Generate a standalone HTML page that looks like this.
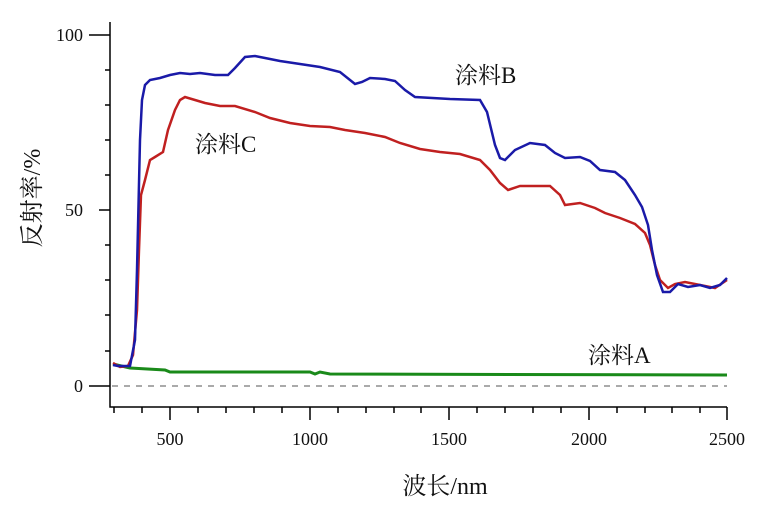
<!DOCTYPE html>
<html><head><meta charset="utf-8"><style>
html,body{margin:0;padding:0;background:#fff;}
text{font-family:"Liberation Serif","Noto Serif CJK SC",serif;fill:#111;}
</style></head><body>
<svg width="760" height="507" viewBox="0 0 760 507" xmlns="http://www.w3.org/2000/svg">
<g stroke="#000" stroke-width="1.5" fill="none">
<path d="M110,22 V407 H727"/>
<path d="M89,35 H110 M99,210 H110 M89,386 H110"/>
<path d="M105,70 H110 M105,105 H110 M105,140 H110 M105,175 H110 M105,245 H110 M105,280 H110 M105,315 H110 M105,351 H110"/>
<path d="M170,407 V420 M310,407 V420 M449,407 V420 M589,407 V420 M727,407 V420"/>
<path d="M114,407 V413 M142,407 V413 M198,407 V413 M226,407 V413 M254,407 V413 M282,407 V413 M338,407 V413 M366,407 V413 M394,407 V413 M421,407 V413 M477,407 V413 M505,407 V413 M533,407 V413 M561,407 V413 M617,407 V413 M645,407 V413 M672,407 V413 M700,407 V413"/>
</g>
<line x1="112" y1="386" x2="727" y2="386" stroke="#aaa" stroke-width="2" stroke-dasharray="6,6"/>
<polyline fill="none" stroke="#1a8a1a" stroke-width="3" points="113,364 130,368 165,370 170,372 310,372 315,374 320,372 330,374 727,375"/>
<polyline fill="none" stroke="#c02020" stroke-width="2.5" points="113,363 120,367 128,366 133,355 137,310 139,250 141,195 145,180 150,160 155,157 163,152 168,130 175,110 180,100 185,97 195,100 205,103 220,106 235,106 255,112 270,118 290,123 310,126 330,127 345,130 365,133 385,137 400,143 420,149 440,152 460,154 480,160 490,170 500,183 508,190 520,186 550,186 560,195 565,205 580,203 595,208 605,213 620,218 635,224 645,233 650,245 655,265 660,280 668,288 675,284 685,282 700,285 715,288 727,280"/>
<polyline fill="none" stroke="#1a1aa8" stroke-width="2.5" points="113,365 118,366 130,366 135,340 137,270 140,140 142,100 145,85 150,80 160,78 170,75 180,73 190,74 200,73 215,75 228,75 235,68 245,57 255,56 265,58 280,61 300,64 320,67 340,72 355,84 362,82 370,78 385,79 395,81 405,90 415,97 450,99 480,100 487,112 495,145 500,158 505,160 515,150 530,143 545,145 555,153 565,158 580,157 590,161 600,170 615,172 625,180 635,195 642,207 648,225 652,250 657,275 663,292 670,292 678,284 688,287 700,285 710,288 720,285 727,278"/>
<g font-size="18" text-anchor="end">
<text x="83" y="41">100</text><text x="83" y="216">50</text><text x="83" y="392">0</text>
</g>
<g font-size="18" text-anchor="middle">
<text x="170" y="445">500</text><text x="310" y="445">1000</text><text x="449" y="445">1500</text><text x="589" y="445">2000</text><text x="727" y="445">2500</text>
</g>
<text x="445" y="494" font-size="24" text-anchor="middle">波长/nm</text>
<text transform="translate(40,198) rotate(-90)" font-size="24" text-anchor="middle">反射率/%</text>
<text x="455" y="83" font-size="23">涂料B</text>
<text x="195" y="152" font-size="23">涂料C</text>
<text x="588" y="363" font-size="23">涂料A</text>
</svg>
</body></html>
